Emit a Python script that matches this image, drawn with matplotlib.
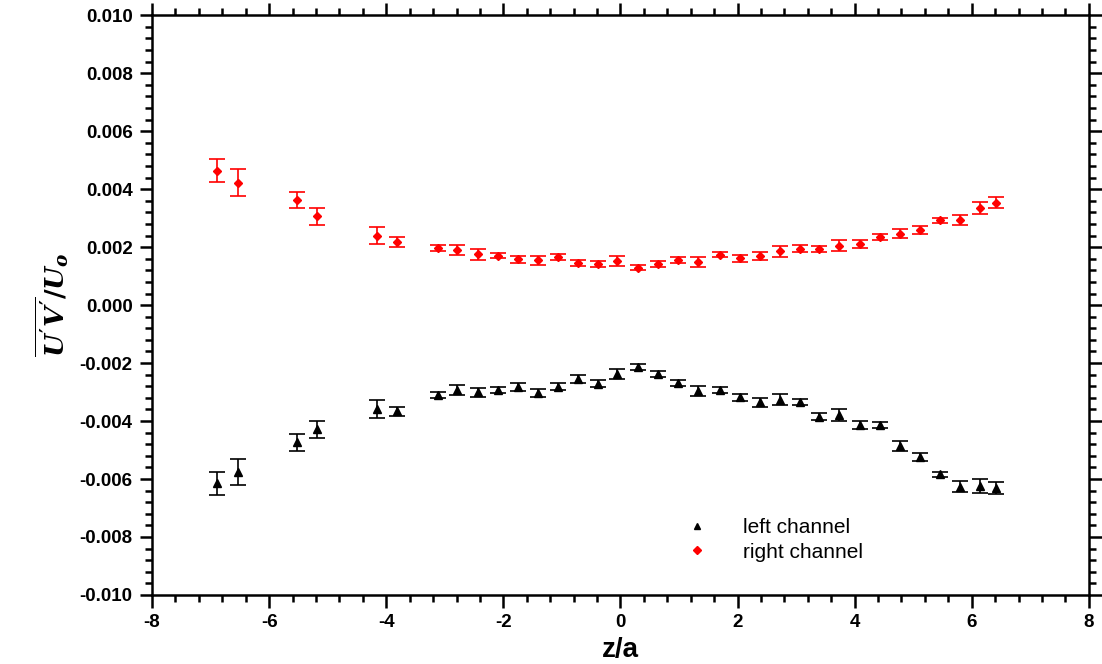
import matplotlib.pyplot as plt
import numpy as np
from matplotlib.ticker import MultipleLocator, FormatStrFormatter

plt.rcParams['font.family'] = 'Liberation Sans'
plt.rcParams['axes.unicode_minus'] = False
plt.rcParams['mathtext.fontset'] = 'custom'
plt.rcParams['mathtext.it'] = 'DejaVu Serif:italic:bold'
plt.rcParams['mathtext.rm'] = 'DejaVu Serif:bold'

# streamwise positions z/a (same stations for both channels)
z_a = [-6.89, -6.54, -5.52, -5.18, -4.15, -3.81, -3.12, -2.79, -2.43, -2.09,
       -1.75, -1.41, -1.07, -0.73, -0.39, -0.05, 0.30, 0.64, 0.99, 1.32,
       1.70, 2.04, 2.38, 2.72, 3.07, 3.40, 3.74, 4.09, 4.44, 4.78,
       5.12, 5.46, 5.80, 6.15, 6.42]

# Reynolds shear stress, units of 1e-3
left_uv = [-6.15, -5.77, -4.74, -4.28, -3.58, -3.67, -3.11, -2.94, -3.01, -2.92,
           -2.83, -3.04, -2.81, -2.55, -2.71, -2.37, -2.13, -2.38, -2.69, -2.95,
           -2.92, -3.18, -3.36, -3.26, -3.35, -3.85, -3.79, -4.14, -4.13, -4.86,
           -5.23, -5.84, -6.26, -6.23, -6.30]
left_err = [0.40, 0.45, 0.28, 0.29, 0.31, 0.17, 0.11, 0.17, 0.16, 0.10,
            0.13, 0.13, 0.11, 0.13, 0.11, 0.17, 0.10, 0.10, 0.11, 0.17,
            0.10, 0.13, 0.14, 0.19, 0.10, 0.12, 0.20, 0.14, 0.11, 0.16,
            0.14, 0.09, 0.18, 0.24, 0.20]

right_uv = [4.64, 4.23, 3.63, 3.07, 2.39, 2.18, 1.98, 1.90, 1.76, 1.70,
            1.58, 1.54, 1.65, 1.45, 1.41, 1.53, 1.29, 1.42, 1.56, 1.49,
            1.74, 1.62, 1.70, 1.85, 1.95, 1.94, 2.05, 2.10, 2.35, 2.46,
            2.59, 2.93, 2.93, 3.35, 3.54]
right_err = [0.40, 0.45, 0.28, 0.29, 0.29, 0.17, 0.11, 0.16, 0.19, 0.09,
             0.13, 0.14, 0.10, 0.11, 0.11, 0.17, 0.08, 0.10, 0.10, 0.17,
             0.09, 0.12, 0.14, 0.18, 0.12, 0.11, 0.18, 0.14, 0.10, 0.15,
             0.13, 0.09, 0.18, 0.22, 0.20]

x = np.array(z_a)
scale = 1e-3

fig = plt.figure(figsize=(11.02, 6.64), dpi=100)
ax = fig.add_axes([0.138, 0.104, 0.850, 0.873])

ax.errorbar(x, np.array(left_uv) * scale, yerr=np.array(left_err) * scale,
            fmt='^', color='black', ms=6, capsize=6, elinewidth=1.2,
            capthick=1.2, label='left channel')
ax.errorbar(x, np.array(right_uv) * scale, yerr=np.array(right_err) * scale,
            fmt='D', color='red', ms=4.5, capsize=6, elinewidth=1.2,
            capthick=1.2, label='right channel')

ax.set_xlim(-8, 8)
ax.set_ylim(-0.010, 0.010)
ax.xaxis.set_major_locator(MultipleLocator(2))
ax.xaxis.set_minor_locator(MultipleLocator(0.4))
ax.yaxis.set_major_locator(MultipleLocator(0.002))
ax.yaxis.set_minor_locator(MultipleLocator(0.0004))
ax.yaxis.set_major_formatter(FormatStrFormatter('%.3f'))

for side in ax.spines.values():
    side.set_linewidth(1.8)
ax.tick_params(which='both', direction='out', top=True, right=True, width=1.8)
ax.tick_params(which='major', length=9, labelsize=13.5, pad=5)
ax.tick_params(which='minor', length=5)
ax.tick_params(labeltop=False, labelright=False)
for lbl in ax.get_xticklabels() + ax.get_yticklabels():
    lbl.set_fontweight('bold')

ax.set_xlabel('z/a', fontsize=20, fontweight='bold', labelpad=4)
ax.set_ylabel(r"$\overline{U^{\prime}V^{\prime}}/U_o$", fontsize=19, labelpad=6)

handles, labels = ax.get_legend_handles_labels()
handles = [h[0] for h in handles]
ax.legend(handles, labels, loc='lower left', bbox_to_anchor=(0.54, 0.025),
          frameon=False, fontsize=15, handletextpad=1.2, labelspacing=0.25,
          markerscale=0.8)

fig.savefig('out.png', dpi=100)
